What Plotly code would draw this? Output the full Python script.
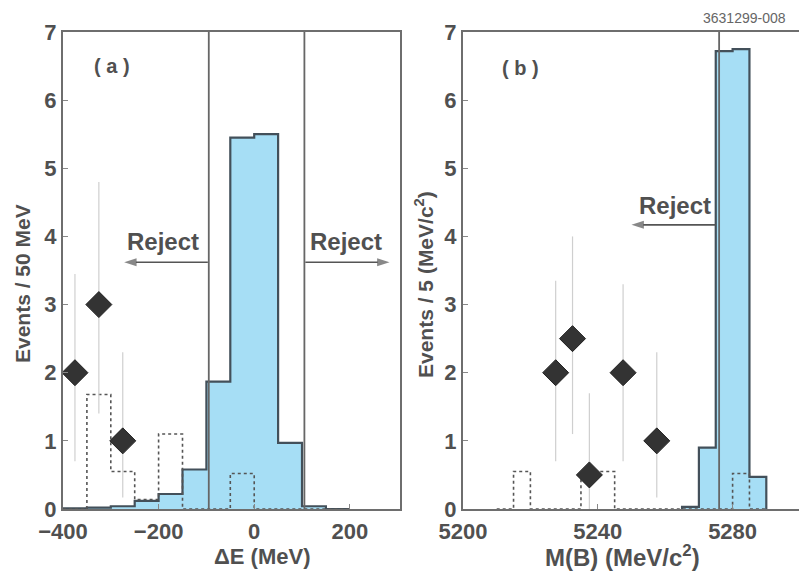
import plotly.graph_objects as go
from plotly.subplots import make_subplots

# ---------------- data: panel (a) ----------------
de_edges = [-400, -350, -300, -250, -200, -150, -100, -50, 0, 50, 100, 150, 200]
de_signal = [0.01, 0.02, 0.04, 0.12, 0.22, 0.58, 1.87, 5.45, 5.50, 0.97, 0.04, 0.0]
de_bkg = [0.0, 1.68, 0.55, 0.14, 1.10, 0.0, 0.0, 0.52, 0.0, 0.0, 0.0, 0.0]
de_pts_x = [-375, -325, -275]
de_pts_y = [2.0, 3.0, 1.0]
de_err_up = [1.45, 1.8, 1.3]
de_err_dn = [1.3, 1.6, 0.83]
de_cuts = [-95, 105]
de_arrows = [(-97, -272, 3.62), (107, 283, 3.62)]   # (from x, to x, y)

# ---------------- data: panel (b) ----------------
mb_sig_edges = [5265, 5270, 5275, 5280, 5285, 5290]
mb_signal = [0.03, 0.90, 6.72, 6.75, 0.47]
mb_bkg_edges = [5210, 5215, 5220, 5225, 5230, 5235, 5240, 5245, 5250, 5255, 5260,
                5265, 5270, 5275, 5280, 5285, 5290]
mb_bkg = [0, 0.55, 0, 0, 0, 0.55, 0.55, 0, 0, 0, 0, 0, 0, 0, 0.52, 0]
mb_pts_x = [5227.5, 5232.5, 5237.5, 5247.5, 5257.5]
mb_pts_y = [2.0, 2.5, 0.5, 2.0, 1.0]
mb_err_up = [1.35, 1.5, 1.2, 1.3, 1.3]
mb_err_dn = [1.3, 1.4, 0.5, 1.3, 0.83]
mb_cuts = [5276]
mb_arrows = [(5275, 5250, 4.17)]

y_ticks = [0, 1, 2, 3, 4, 5, 6, 7]
de_ticks = [-400, -200, 0, 200]
mb_ticks = [5200, 5240, 5280]

BLUE = "#a6def5"
EDGE = "#43505a"
TXT = "#505050"
FONT = "Liberation Sans, Arial, sans-serif"
OFF = 8                      # page body margin of the browser
W, H = 807 - OFF, 581 - OFF


def step(edges, vals):
    xs = [edges[0]] + edges[:-1] + [edges[-1], edges[-1]]
    ys = [0] + list(vals) + [vals[-1], 0]
    return xs, ys


fig = make_subplots(rows=1, cols=2)

panels = [
    (1, de_edges, de_signal, de_edges, de_bkg, de_pts_x, de_pts_y, de_err_up, de_err_dn,
     de_cuts, de_arrows),
    (2, mb_sig_edges, mb_signal, mb_bkg_edges, mb_bkg, mb_pts_x, mb_pts_y, mb_err_up,
     mb_err_dn, mb_cuts, mb_arrows),
]
for col, sedges, sig, bedges, bkg, px, py, eu, ed, cuts, arrows in panels:
    xs, ys = step(sedges, sig)
    fig.add_trace(go.Scatter(x=xs, y=ys, mode="lines", line_shape="hv",
                             fill="tozeroy", fillcolor=BLUE,
                             line=dict(color=EDGE, width=2.2),
                             showlegend=False, hoverinfo="skip"), row=1, col=col)
    xb, yb = step(bedges, bkg)
    fig.add_trace(go.Scatter(x=xb, y=yb, mode="lines", line_shape="hv",
                             line=dict(color="#555", width=1.6, dash="dot"),
                             showlegend=False, hoverinfo="skip"), row=1, col=col)
    for c in cuts:
        fig.add_trace(go.Scatter(x=[c, c], y=[0, 7], mode="lines",
                                 line=dict(color="#666", width=1.8),
                                 showlegend=False, hoverinfo="skip"), row=1, col=col)
    for x0, x1, ya in arrows:
        fig.add_trace(go.Scatter(x=[x0, x1], y=[ya, ya], mode="lines+markers",
                                 line=dict(color="#555", width=1.6),
                                 marker=dict(symbol="arrow", size=[0, 13], angleref="previous",
                                             color="#555", line=dict(width=0)),
                                 showlegend=False, hoverinfo="skip"), row=1, col=col)
    fig.add_trace(go.Scatter(x=px, y=py, mode="markers",
                             marker=dict(symbol="diamond", size=20, color="#333333",
                                         line=dict(color="#222", width=1)),
                             error_y=dict(type="data", array=eu, arrayminus=ed,
                                          color="#cfcfcf", thickness=1.2, width=0),
                             showlegend=False), row=1, col=col)

axis_common = dict(showline=True, mirror=True, linecolor="#6e6e6e", linewidth=2,
                   ticks="inside", ticklen=5, tickcolor="#888", showgrid=False,
                   zeroline=False, automargin=False,
                   tickfont=dict(family=FONT, size=22, color=TXT, weight="bold"))


def pax(px):
    return (px - OFF) / W


def pay(py):
    return 1 - (py - OFF) / H


ydom = [pay(509), pay(32)]
fig.update_layout(
    xaxis=dict(domain=[pax(63), pax(400)], range=[-400, 305], tickvals=de_ticks,
               ticklabelstandoff=2, **axis_common),
    yaxis=dict(domain=ydom, range=[0, 7], tickvals=y_ticks, **axis_common),
    xaxis2=dict(domain=[pax(463), pax(800)], range=[5200, 5300], tickvals=mb_ticks,
                ticklabelstandoff=2, **axis_common),
    yaxis2=dict(domain=ydom, range=[0, 7], tickvals=y_ticks, anchor="x2", **axis_common),
    width=W, height=H, margin=dict(l=0, r=0, t=0, b=0),
    paper_bgcolor="white", plot_bgcolor="white",
    font=dict(family=FONT, color=TXT),
)

center = dict(xanchor="center", yanchor="middle", showarrow=False)
tf = dict(family=FONT, size=22, color=TXT, weight="bold")
ann = [
    dict(x=pax(262), y=pay(556), text="ΔE (MeV)", font=tf),
    dict(x=pax(622), y=pay(556), text="M(B) (MeV/c<sup>2</sup>)",
         font=dict(tf, size=24)),
    dict(x=pax(22), y=pay(284), text="Events / 50 MeV", textangle=-90,
         font=dict(tf, size=21)),
    dict(x=pax(424), y=pay(285), text="Events / 5 (MeV/c<sup>2</sup>)", textangle=-90,
         font=dict(tf, size=21)),
    dict(x=pax(112), y=pay(66), text="( a )",
         font=dict(family=FONT, size=20, color=TXT, weight="bold")),
    dict(x=pax(520), y=pay(68), text="( b )",
         font=dict(family=FONT, size=20, color=TXT, weight="bold")),
    dict(x=pax(744), y=pay(18), text="3631299-008",
         font=dict(family=FONT, size=14, color="#666")),
]
for a in ann:
    fig.add_annotation(xref="paper", yref="paper", **center, **a)

rej = dict(family=FONT, size=24, color=TXT, weight="bold")
fig.add_annotation(xref="x", yref="y", x=-190, y=3.92, text="Reject", font=rej, **center)
fig.add_annotation(xref="x", yref="y", x=192, y=3.92, text="Reject", font=rej, **center)
fig.add_annotation(xref="x2", yref="y2", x=5263, y=4.45, text="Reject", font=rej, **center)

fig.write_html("out.html")
